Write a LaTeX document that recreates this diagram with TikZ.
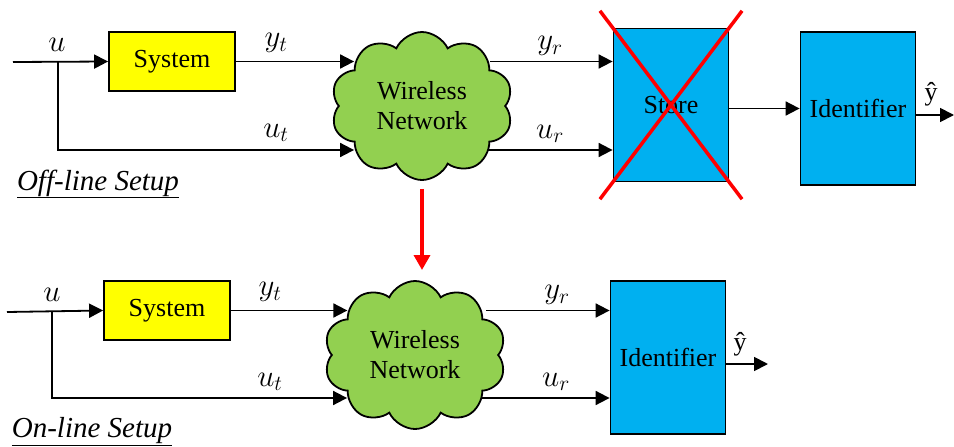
\documentclass[tikz,border=0pt]{standalone}
\usepackage{fontspec}
\setmainfont{Liberation Serif}
\usetikzlibrary{shapes.symbols,arrows.meta}

\definecolor{sysyellow}{RGB}{255,255,0}
\definecolor{idblue}{RGB}{0,176,240}
\definecolor{netgreen}{RGB}{146,208,80}

% signal names, a bit larger than the math font allows
\newcommand{\signame}[1]{\scalebox{1.24}{$#1$}}

\begin{document}
\begin{tikzpicture}[x=1pt,y=-1pt,font=\fontsize{26}{30}\selectfont,line width=1.8pt,
  >={Triangle[length=14pt,width=14pt]},
  sysbox/.style={draw,fill=sysyellow,minimum width=126pt,minimum height=59pt,inner sep=0pt},
  idbox/.style={draw,fill=idblue,minimum width=115pt,minimum height=153pt,inner sep=0pt},
  net/.style={draw,cloud,cloud puffs=10,cloud puff arc=130,fill=netgreen,minimum width=182pt,
    minimum height=148pt,inner sep=0pt,align=center},
  lbl/.style={inner sep=0pt},
  setup/.style={inner sep=0pt,font=\fontsize{29}{32}\selectfont}]
\useasboundingbox (0,0) rectangle (954,447);

% off-line setup
\node [sysbox] (sys1) at (172,61.5) {System};
\node [net] (net1) at (422,106) {Wireless\\Network};
\node [idbox] (store) at (671,105) {Store};
\node [idbox] (id1) at (858,108.5) {Identifier};
\coordinate (in1) at (13,62);
\coordinate (br1) at (58,62);
\coordinate (out1) at (954,115);
\draw [->] (in1) -- (sys1.west);
\draw [->] (sys1.east) -- (sys1.east -| net1.149);
\draw [->] (br1) |- (br1 |- 0,150) -- (net1.211 |- 0,150);
\draw [->] (net1.29 |- sys1.east) -- (store.west |- sys1.east);
\draw [->] (net1.325 |- 0,150) -- (store.west |- 0,150);
\draw [->] (id1.west -| store.east) -- (id1.west);
\draw [->] (id1.east |- out1) -- (out1);
\draw [red,line width=3.5pt,shorten <=-21pt,shorten >=-21pt] (store.north west) -- (store.south east);
\draw [red,line width=3.5pt,shorten <=-21pt,shorten >=-21pt] (store.north east) -- (store.south west);
\node [lbl] (u1) at (57,45) {\signame{u}};
\node [lbl] (yt1) at (276,43) {\signame{y_t}};
\node [lbl] (ut1) at (276,133) {\signame{u_t}};
\node [lbl] (yr1) at (550,46) {\signame{y_r}};
\node [lbl] (ur1) at (550,134) {\signame{u_r}};
\node [lbl] (yh1) at (931,94) {ŷ};
\node [setup] (off) at (98,184) {\underline{\textit{Off-line Setup}}};

% red arrow between the setups
\draw [->,red,line width=3.5pt,>={Triangle[length=15pt,width=16pt]},shorten <=8pt,shorten >=12pt]
  (net1.south) -- (net1.south |- 0,282);

% on-line setup
\node [sysbox] (sys2) at (167,310.5) {System};
\node [net] (net2) at (415,355) {Wireless\\Network};
\node [idbox] (id2) at (668,357.5) {Identifier};
\coordinate (in2) at (7,312);
\coordinate (br2) at (52,312);
\coordinate (out2) at (768,364);
\draw [->] (in2) -- (sys2.west);
\draw [->] (sys2.east) -- (sys2.east -| net2.148);
\draw [->] (br2) |- (br2 |- 0,398) -- (net2.211 |- 0,398);
\draw [->] (net2.27 |- sys2.east) -- (id2.west |- sys2.east);
\draw [->] (net2.326 |- 0,398) -- (id2.west |- 0,398);
\draw [->] (id2.east |- out2) -- (out2);
\node [lbl] (u2) at (52,295) {\signame{u}};
\node [lbl] (yt2) at (270,292) {\signame{y_t}};
\node [lbl] (ut2) at (270,382) {\signame{u_t}};
\node [lbl] (yr2) at (557,295) {\signame{y_r}};
\node [lbl] (ur2) at (556,382) {\signame{u_r}};
\node [lbl] (yh2) at (740,344) {ŷ};
\node [setup] (on) at (92,432) {\underline{\textit{On-line Setup}}};
\end{tikzpicture}
\end{document}
